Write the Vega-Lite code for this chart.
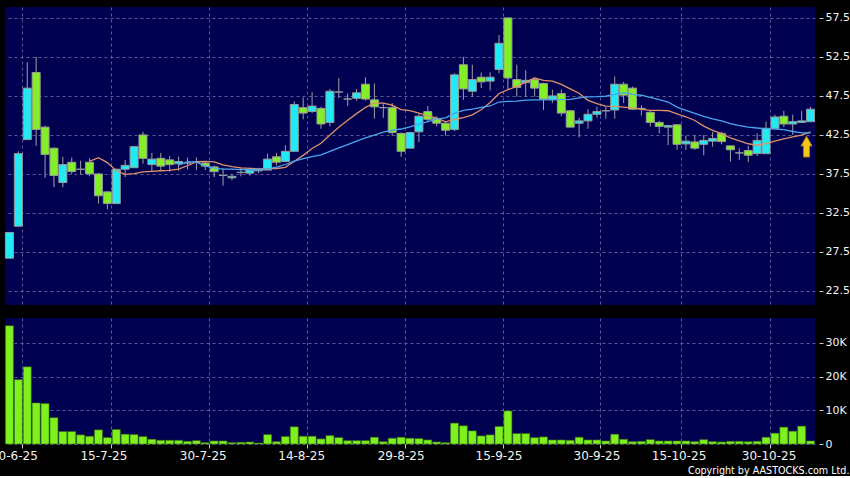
{
  "$schema": "https://vega.github.io/schema/vega-lite/v6.json",
  "background": "#000000",
  "padding": {"left": -10, "top": 7, "right": 0, "bottom": 0},
  "title": {"text": "Copyright by AASTOCKS.com Ltd.", "orient": "bottom", "anchor": "end", "frame": "bounds", "font": "DejaVu Sans", "fontSize": 9.6, "fontWeight": "normal", "color": "#ffffff", "offset": 5},
  "config": {
    "view": {"fill": "#000050", "stroke": null},
    "axis": {"gridColor": "#7070a8", "gridDash": [3, 3], "gridWidth": 1, "gridOpacity": 0.8, "domain": false, "tickColor": "#c8c8c8", "labelColor": "#f2f2f2", "labelFont": "DejaVu Sans", "labelFontSize": 11}
  },
  "data": {"values": [
    {"date": "2025-06-27", "open": 26.7, "high": 30.0, "low": 26.7, "close": 30.0, "volume": 35100, "ma10": null, "ma20": null},
    {"date": "2025-06-30", "open": 30.8, "high": 40.4, "low": 30.8, "close": 40.1, "volume": 19100, "ma10": null, "ma20": null},
    {"date": "2025-07-02", "open": 41.9, "high": 51.8, "low": 41.9, "close": 48.5, "volume": 22900, "ma10": null, "ma20": null},
    {"date": "2025-07-03", "open": 50.5, "high": 52.5, "low": 41.1, "close": 43.2, "volume": 12200, "ma10": null, "ma20": null},
    {"date": "2025-07-04", "open": 43.5, "high": 43.7, "low": 37.0, "close": 40.0, "volume": 12000, "ma10": null, "ma20": null},
    {"date": "2025-07-07", "open": 40.8, "high": 40.9, "low": 35.8, "close": 37.3, "volume": 7800, "ma10": null, "ma20": null},
    {"date": "2025-07-08", "open": 36.4, "high": 39.7, "low": 35.8, "close": 38.7, "volume": 3700, "ma10": null, "ma20": null},
    {"date": "2025-07-09", "open": 39.0, "high": 39.6, "low": 37.5, "close": 37.8, "volume": 3700, "ma10": null, "ma20": null},
    {"date": "2025-07-10", "open": 38.1, "high": 39.2, "low": 37.4, "close": 38.1, "volume": 2700, "ma10": null, "ma20": null},
    {"date": "2025-07-11", "open": 39.0, "high": 39.5, "low": 37.2, "close": 37.5, "volume": 2300, "ma10": 39.12, "ma20": null},
    {"date": "2025-07-14", "open": 37.5, "high": 37.6, "low": 33.7, "close": 34.7, "volume": 4200, "ma10": 39.59, "ma20": null},
    {"date": "2025-07-15", "open": 35.2, "high": 35.3, "low": 33.0, "close": 33.7, "volume": 1900, "ma10": 38.95, "ma20": null},
    {"date": "2025-07-16", "open": 33.7, "high": 38.2, "low": 33.7, "close": 38.1, "volume": 4300, "ma10": 37.91, "ma20": null},
    {"date": "2025-07-17", "open": 38.1, "high": 39.3, "low": 37.1, "close": 38.6, "volume": 2900, "ma10": 37.45, "ma20": null},
    {"date": "2025-07-18", "open": 38.3, "high": 41.0, "low": 38.3, "close": 41.0, "volume": 2800, "ma10": 37.55, "ma20": null},
    {"date": "2025-07-21", "open": 42.5, "high": 42.9, "low": 38.8, "close": 39.5, "volume": 2200, "ma10": 37.77, "ma20": null},
    {"date": "2025-07-22", "open": 38.7, "high": 40.2, "low": 37.8, "close": 39.4, "volume": 1400, "ma10": 37.84, "ma20": null},
    {"date": "2025-07-23", "open": 39.5, "high": 40.2, "low": 37.9, "close": 38.5, "volume": 1100, "ma10": 37.91, "ma20": null},
    {"date": "2025-07-24", "open": 39.3, "high": 39.8, "low": 37.8, "close": 38.7, "volume": 1100, "ma10": 37.97, "ma20": null},
    {"date": "2025-07-25", "open": 38.8, "high": 39.7, "low": 37.9, "close": 39.1, "volume": 1100, "ma10": 38.13, "ma20": 38.63},
    {"date": "2025-07-28", "open": 38.9, "high": 39.6, "low": 38.1, "close": 38.9, "volume": 800, "ma10": 38.55, "ma20": 39.07},
    {"date": "2025-07-29", "open": 39.0, "high": 39.6, "low": 38.0, "close": 39.0, "volume": 1000, "ma10": 39.08, "ma20": 39.02},
    {"date": "2025-07-30", "open": 38.9, "high": 39.1, "low": 38.0, "close": 38.5, "volume": 400, "ma10": 39.12, "ma20": 38.52},
    {"date": "2025-07-31", "open": 38.4, "high": 38.6, "low": 37.1, "close": 37.8, "volume": 900, "ma10": 39.04, "ma20": 38.25},
    {"date": "2025-08-01", "open": 37.3, "high": 38.2, "low": 36.0, "close": 37.3, "volume": 900, "ma10": 38.67, "ma20": 38.11},
    {"date": "2025-08-04", "open": 37.0, "high": 37.5, "low": 36.7, "close": 37.2, "volume": 400, "ma10": 38.44, "ma20": 38.11},
    {"date": "2025-08-05", "open": 37.7, "high": 38.3, "low": 37.2, "close": 37.7, "volume": 500, "ma10": 38.27, "ma20": 38.06},
    {"date": "2025-08-06", "open": 37.6, "high": 38.3, "low": 37.3, "close": 38.0, "volume": 600, "ma10": 38.22, "ma20": 38.07},
    {"date": "2025-08-07", "open": 37.9, "high": 38.3, "low": 37.6, "close": 38.1, "volume": 300, "ma10": 38.16, "ma20": 38.07},
    {"date": "2025-08-08", "open": 38.0, "high": 40.1, "low": 38.0, "close": 39.4, "volume": 2800, "ma10": 38.19, "ma20": 38.16},
    {"date": "2025-08-11", "open": 39.7, "high": 40.2, "low": 38.6, "close": 39.0, "volume": 700, "ma10": 38.2, "ma20": 38.38},
    {"date": "2025-08-12", "open": 39.1, "high": 41.2, "low": 39.0, "close": 40.4, "volume": 2200, "ma10": 38.34, "ma20": 38.71},
    {"date": "2025-08-13", "open": 40.4, "high": 46.8, "low": 40.3, "close": 46.4, "volume": 5100, "ma10": 39.13, "ma20": 39.13},
    {"date": "2025-08-14", "open": 46.0, "high": 47.3, "low": 44.5, "close": 45.3, "volume": 2300, "ma10": 39.88, "ma20": 39.46},
    {"date": "2025-08-15", "open": 45.5, "high": 48.0, "low": 45.3, "close": 46.2, "volume": 2300, "ma10": 40.77, "ma20": 39.72},
    {"date": "2025-08-18", "open": 45.9, "high": 46.1, "low": 43.3, "close": 43.9, "volume": 1500, "ma10": 41.44, "ma20": 39.94},
    {"date": "2025-08-19", "open": 44.1, "high": 48.4, "low": 43.6, "close": 48.1, "volume": 2500, "ma10": 42.48, "ma20": 40.38},
    {"date": "2025-08-20", "open": 48.0, "high": 49.8, "low": 47.2, "close": 48.0, "volume": 1900, "ma10": 43.48, "ma20": 40.85},
    {"date": "2025-08-21", "open": 47.1, "high": 47.8, "low": 46.2, "close": 47.1, "volume": 1000, "ma10": 44.38, "ma20": 41.27},
    {"date": "2025-08-22", "open": 47.2, "high": 48.4, "low": 46.9, "close": 47.9, "volume": 1000, "ma10": 45.23, "ma20": 41.71},
    {"date": "2025-08-25", "open": 49.0, "high": 49.9, "low": 46.9, "close": 47.1, "volume": 1000, "ma10": 46.04, "ma20": 42.12},
    {"date": "2025-08-26", "open": 47.0, "high": 49.1, "low": 44.6, "close": 46.1, "volume": 2000, "ma10": 46.61, "ma20": 42.48},
    {"date": "2025-08-27", "open": 46.0, "high": 46.6, "low": 44.7, "close": 46.0, "volume": 700, "ma10": 46.57, "ma20": 42.85},
    {"date": "2025-08-28", "open": 46.0, "high": 46.6, "low": 42.4, "close": 42.8, "volume": 1700, "ma10": 46.32, "ma20": 43.1},
    {"date": "2025-08-29", "open": 42.7, "high": 42.8, "low": 39.7, "close": 40.4, "volume": 2000, "ma10": 45.74, "ma20": 43.26},
    {"date": "2025-09-01", "open": 40.8, "high": 42.9, "low": 40.8, "close": 42.8, "volume": 1700, "ma10": 45.63, "ma20": 43.54},
    {"date": "2025-09-02", "open": 42.9, "high": 45.2, "low": 41.6, "close": 44.9, "volume": 1600, "ma10": 45.31, "ma20": 43.9},
    {"date": "2025-09-03", "open": 45.5, "high": 46.2, "low": 44.2, "close": 44.5, "volume": 1200, "ma10": 44.96, "ma20": 44.22},
    {"date": "2025-09-04", "open": 44.6, "high": 44.9, "low": 43.6, "close": 44.0, "volume": 600, "ma10": 44.65, "ma20": 44.52},
    {"date": "2025-09-05", "open": 44.0, "high": 44.2, "low": 42.4, "close": 43.1, "volume": 400, "ma10": 44.17, "ma20": 44.7},
    {"date": "2025-09-08", "open": 43.2, "high": 50.4, "low": 43.0, "close": 50.2, "volume": 6200, "ma10": 44.48, "ma20": 45.26},
    {"date": "2025-09-09", "open": 51.5, "high": 52.5, "low": 47.0, "close": 48.4, "volume": 5400, "ma10": 44.71, "ma20": 45.66},
    {"date": "2025-09-10", "open": 48.1, "high": 51.5, "low": 47.4, "close": 49.6, "volume": 3900, "ma10": 45.07, "ma20": 45.82},
    {"date": "2025-09-11", "open": 49.9, "high": 50.5, "low": 48.5, "close": 49.3, "volume": 2400, "ma10": 45.72, "ma20": 46.02},
    {"date": "2025-09-12", "open": 49.4, "high": 50.5, "low": 48.2, "close": 49.9, "volume": 2700, "ma10": 46.67, "ma20": 46.21},
    {"date": "2025-09-15", "open": 50.9, "high": 55.3, "low": 50.4, "close": 54.25, "volume": 5200, "ma10": 47.82, "ma20": 46.72},
    {"date": "2025-09-16", "open": 57.5, "high": 57.5, "low": 48.3, "close": 49.8, "volume": 9800, "ma10": 48.31, "ma20": 46.81},
    {"date": "2025-09-17", "open": 49.6, "high": 51.5, "low": 47.4, "close": 48.6, "volume": 3100, "ma10": 48.72, "ma20": 46.84},
    {"date": "2025-09-18", "open": 49.2, "high": 50.8, "low": 47.4, "close": 49.5, "volume": 3100, "ma10": 49.27, "ma20": 46.96},
    {"date": "2025-09-19", "open": 49.6, "high": 49.9, "low": 47.4, "close": 48.5, "volume": 1900, "ma10": 49.81, "ma20": 46.99},
    {"date": "2025-09-22", "open": 49.1, "high": 49.2, "low": 45.7, "close": 47.1, "volume": 2100, "ma10": 49.5, "ma20": 46.99},
    {"date": "2025-09-23", "open": 47.0, "high": 48.3, "low": 46.6, "close": 47.5, "volume": 1200, "ma10": 49.41, "ma20": 47.06},
    {"date": "2025-09-24", "open": 47.8, "high": 48.3, "low": 44.9, "close": 45.3, "volume": 1200, "ma10": 48.98, "ma20": 47.02},
    {"date": "2025-09-25", "open": 45.6, "high": 45.7, "low": 43.5, "close": 43.5, "volume": 1100, "ma10": 48.4, "ma20": 47.06},
    {"date": "2025-09-26", "open": 44.0, "high": 44.7, "low": 42.2, "close": 44.3, "volume": 2000, "ma10": 47.84, "ma20": 47.25},
    {"date": "2025-09-29", "open": 44.3, "high": 45.8, "low": 43.3, "close": 45.15, "volume": 1200, "ma10": 46.93, "ma20": 47.37},
    {"date": "2025-09-30", "open": 45.15, "high": 46.1, "low": 44.7, "close": 45.5, "volume": 1200, "ma10": 46.5, "ma20": 47.4},
    {"date": "2025-10-02", "open": 45.6, "high": 46.1, "low": 44.6, "close": 45.6, "volume": 900, "ma10": 46.2, "ma20": 47.46},
    {"date": "2025-10-03", "open": 45.7, "high": 50.0, "low": 44.6, "close": 49.0, "volume": 2900, "ma10": 46.15, "ma20": 47.71},
    {"date": "2025-10-06", "open": 49.0, "high": 49.3, "low": 46.6, "close": 47.6, "volume": 1400, "ma10": 46.06, "ma20": 47.93},
    {"date": "2025-10-08", "open": 48.5, "high": 48.7, "low": 45.7, "close": 45.8, "volume": 700, "ma10": 45.93, "ma20": 47.71},
    {"date": "2025-10-09", "open": 45.9, "high": 46.3, "low": 45.0, "close": 45.9, "volume": 800, "ma10": 45.77, "ma20": 47.59},
    {"date": "2025-10-10", "open": 45.4, "high": 45.7, "low": 43.6, "close": 44.1, "volume": 1300, "ma10": 45.65, "ma20": 47.31},
    {"date": "2025-10-13", "open": 44.1, "high": 44.3, "low": 42.7, "close": 43.6, "volume": 900, "ma10": 45.66, "ma20": 47.03},
    {"date": "2025-10-14", "open": 43.5, "high": 43.8, "low": 41.2, "close": 43.7, "volume": 900, "ma10": 45.6, "ma20": 46.72},
    {"date": "2025-10-15", "open": 43.8, "high": 43.9, "low": 40.6, "close": 41.3, "volume": 900, "ma10": 45.21, "ma20": 46.07},
    {"date": "2025-10-16", "open": 41.35, "high": 42.4, "low": 40.6, "close": 41.7, "volume": 900, "ma10": 44.83, "ma20": 45.66},
    {"date": "2025-10-17", "open": 41.6, "high": 42.5, "low": 40.6, "close": 40.8, "volume": 700, "ma10": 44.35, "ma20": 45.27},
    {"date": "2025-10-20", "open": 41.3, "high": 42.5, "low": 39.9, "close": 41.8, "volume": 1300, "ma10": 43.63, "ma20": 44.89},
    {"date": "2025-10-21", "open": 41.7, "high": 42.9, "low": 41.0, "close": 42.05, "volume": 700, "ma10": 43.08, "ma20": 44.57},
    {"date": "2025-10-22", "open": 42.7, "high": 42.9, "low": 41.3, "close": 41.65, "volume": 600, "ma10": 42.66, "ma20": 44.29},
    {"date": "2025-10-23", "open": 41.1, "high": 41.1, "low": 39.1, "close": 40.6, "volume": 800, "ma10": 42.13, "ma20": 43.95},
    {"date": "2025-10-24", "open": 40.2, "high": 40.8, "low": 39.3, "close": 40.2, "volume": 800, "ma10": 41.74, "ma20": 43.69},
    {"date": "2025-10-27", "open": 40.5, "high": 41.1, "low": 39.0, "close": 39.9, "volume": 700, "ma10": 41.37, "ma20": 43.51},
    {"date": "2025-10-28", "open": 40.1, "high": 42.7, "low": 39.8, "close": 41.8, "volume": 800, "ma10": 41.18, "ma20": 43.39},
    {"date": "2025-10-30", "open": 40.1, "high": 44.2, "low": 40.1, "close": 43.35, "volume": 2000, "ma10": 41.39, "ma20": 43.3},
    {"date": "2025-10-31", "open": 43.35, "high": 45.1, "low": 43.3, "close": 44.8, "volume": 3200, "ma10": 41.7, "ma20": 43.26},
    {"date": "2025-11-03", "open": 44.9, "high": 45.6, "low": 43.5, "close": 43.9, "volume": 5000, "ma10": 42.0, "ma20": 43.18},
    {"date": "2025-11-04", "open": 43.9, "high": 45.1, "low": 42.5, "close": 44.2, "volume": 3800, "ma10": 42.25, "ma20": 42.94},
    {"date": "2025-11-05", "open": 44.1, "high": 45.6, "low": 44.1, "close": 44.3, "volume": 5300, "ma10": 42.47, "ma20": 42.77},
    {"date": "2025-11-06", "open": 44.2, "high": 46.1, "low": 44.2, "close": 45.8, "volume": 900, "ma10": 42.89, "ma20": 42.77}
  ]},
  "spacing": 13,
  "vconcat": [
    {
      "width": 810,
      "height": 298,
      "encoding": {
        "x": {"field": "date", "type": "ordinal", "title": null,
          "scale": {"paddingInner": 0.1, "paddingOuter": 0.05},
          "axis": {"values": ["2025-06-30", "2025-07-15", "2025-07-30", "2025-08-14", "2025-08-29", "2025-09-15", "2025-09-30", "2025-10-15", "2025-10-30"], "bandPosition": 1, "labels": false, "ticks": false, "domain": false, "grid": true}}
      },
      "layer": [
        {
          "mark": {"type": "rule", "color": "#a0a0a0", "strokeWidth": 1},
          "encoding": {
            "y": {"field": "low", "type": "quantitative", "title": null,
              "scale": {"domain": [20.7, 58.9], "nice": false, "zero": false},
              "axis": {"orient": "right", "offset": 4, "values": [22.5, 25, 27.5, 30, 32.5, 35, 37.5, 40, 42.5, 45, 47.5, 50, 52.5, 55, 57.5], "labelExpr": "format(datum.value, '.1~f')", "labelOverlap": false, "grid": true, "tickSize": 4, "labelPadding": 2, "labelFontSize": 11}},
            "y2": {"field": "high"}
          }
        },
        {
          "mark": {"type": "bar", "stroke": "#9a9a9a", "strokeWidth": 1},
          "encoding": {
            "y": {"field": "open", "type": "quantitative"},
            "y2": {"field": "close"},
            "fill": {"condition": {"test": "datum.close > datum.open", "value": "#22eaf4"}, "value": "#84ee28"}
          }
        },
        {
          "mark": {"type": "line", "color": "#e0906a", "strokeWidth": 1.3},
          "encoding": {"y": {"field": "ma10", "type": "quantitative"}}
        },
        {
          "mark": {"type": "line", "color": "#4aa6ee", "strokeWidth": 1.3},
          "encoding": {"y": {"field": "ma20", "type": "quantitative"}}
        },
        {
          "transform": [{"filter": "datum.date == '2025-11-06'"}],
          "mark": {"type": "point", "shape": "M0,0.6L1,2.4L0.55,2.4L0.55,4.4L-0.55,4.4L-0.55,2.4L-1,2.4Z", "size": 121, "filled": true, "fill": "#f7c61e", "stroke": "#b07a10", "strokeWidth": 1, "opacity": 1, "xOffset": -4},
          "encoding": {"y": {"field": "ma20", "type": "quantitative"}}
        }
      ]
    },
    {
      "width": 810,
      "height": 126,
      "mark": {"type": "bar", "fill": "#7ef01e", "stroke": "#3a7010", "strokeWidth": 0.6},
      "encoding": {
        "x": {"field": "date", "type": "ordinal", "title": null,
          "scale": {"paddingInner": 0.1, "paddingOuter": 0.05},
          "axis": {"values": ["2025-06-30", "2025-07-15", "2025-07-30", "2025-08-14", "2025-08-29", "2025-09-15", "2025-09-30", "2025-10-15", "2025-10-30"], "bandPosition": 1, "labelExpr": "utcFormat(toDate(datum.value), '%-d-%-m-%y')", "labelAngle": 0, "labelFlush": false, "labelOverlap": false, "labelFontSize": 12, "labelPadding": 2,
            "labelOffset": {"condition": [
              {"test": "datum.value == '2025-06-30'", "value": -4},
              {"test": "datum.value == '2025-07-15'", "value": -3.5},
              {"test": "datum.value == '2025-07-30'", "value": -2},
              {"test": "datum.value == '2025-08-14'", "value": -1.5},
              {"test": "datum.value == '2025-10-15'", "value": 2},
              {"test": "datum.value == '2025-10-30'", "value": 3}
            ], "value": 0},
            "ticks": true, "tickSize": 4, "domain": false, "grid": true}},
        "y": {"field": "volume", "type": "quantitative", "title": null,
          "scale": {"domain": [0, 37400], "nice": false},
          "axis": {"orient": "right", "offset": 4, "values": [0, 10000, 20000, 30000], "labelExpr": "datum.value == 0 ? '0' : (datum.value / 1000) + 'K'", "grid": true, "tickSize": 4, "labelPadding": 2, "labelFontSize": 11}}
      }
    }
  ]
}
